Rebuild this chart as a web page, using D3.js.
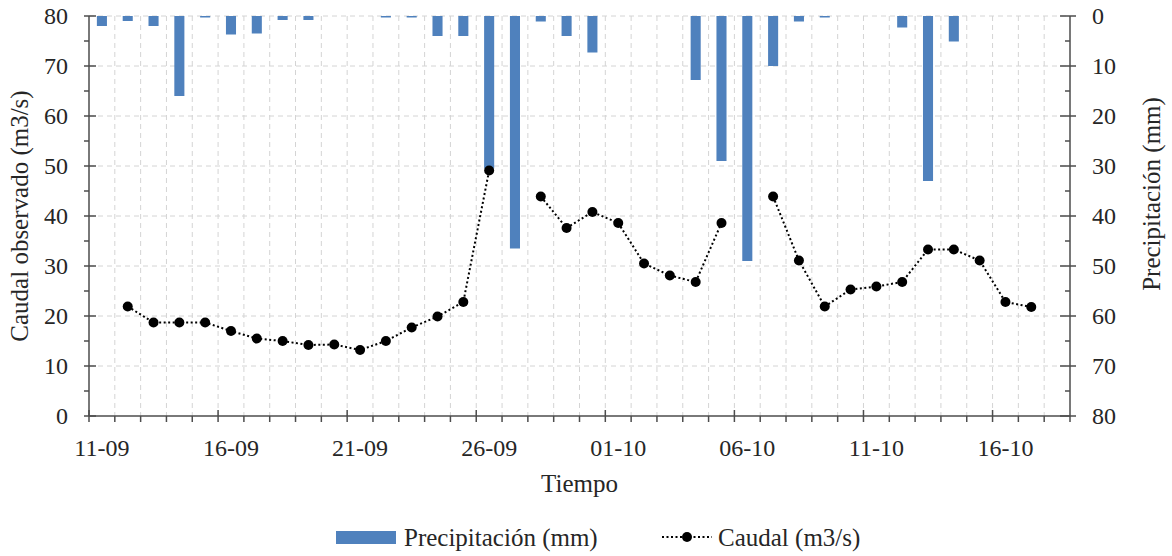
<!DOCTYPE html>
<html>
<head>
<meta charset="utf-8">
<script src="https://cdn.jsdelivr.net/npm/d3@7/dist/d3.min.js"></script>
<style>
  html, body { margin: 0; padding: 0; background: #fff; }
  svg { display: block; }
  svg text { font-family: "Liberation Serif", "Times New Roman", serif; }
</style>
</head>
<body>
<svg id="chart" width="1172" height="556"></svg>
<script>
// Daily dates (dd-mm), one slot per day
const dates = [
  "11-09","12-09","13-09","14-09","15-09","16-09","17-09","18-09","19-09","20-09",
  "21-09","22-09","23-09","24-09","25-09","26-09","27-09","28-09","29-09","30-09",
  "01-10","02-10","03-10","04-10","05-10","06-10","07-10","08-10","09-10","10-10",
  "11-10","12-10","13-10","14-10","15-10","16-10","17-10","18-10"
];
// Daily precipitation (mm)
const precipitacion = [
  2, 1, 2, 16, 0.3, 3.7, 3.5, 0.8, 0.8, 0,
  0, 0.3, 0.3, 4, 4, 30.5, 46.5, 1.1, 4, 7.3,
  0, 0, 0, 12.8, 29, 49, 10, 1.1, 0.3, 0,
  0, 2.3, 33, 5.1, 0, 0, 0, 0
];
// Observed discharge (m3/s); null = no measurement
const caudal = [
  null, 21.9, 18.7, 18.7, 18.7, 17.0, 15.5, 15.0, 14.2, 14.3,
  13.2, 15.0, 17.7, 19.9, 22.8, 49.1, null, 43.9, 37.6, 40.8,
  38.6, 30.5, 28.1, 26.8, 38.6, null, 43.9, 31.1, 21.9, 25.3,
  25.9, 26.8, 33.3, 33.3, 31.1, 22.8, 21.8, null
];
const xTickLabels = ["11-09","16-09","21-09","26-09","01-10","06-10","11-10","16-10"];
const yTicks = [0, 10, 20, 30, 40, 50, 60, 70, 80];
const yMinorTicks = [5, 15, 25, 35, 45, 55, 65, 75];

const svg = d3.select("#chart");
const plotL = 89, plotR = 1070, plotT = 16, plotB = 416;
const axisColor = "#4d4d4d", textColor = "#262626", gridColor = "#d4d4d4";
const barColor = "#4f81bd";
const serif = '"Liberation Serif", "Times New Roman", serif';

const x = d3.scaleBand().domain(dates).range([plotL, plotR]).padding(0);
const yL = d3.scaleLinear().domain([0, 80]).range([plotB, plotT]);
const yR = d3.scaleLinear().domain([0, 80]).range([plotT, plotB]);
const bw = x.bandwidth();
const cx = d => x(d) + bw / 2;

// Gridlines
const grid = svg.append("g").attr("stroke", gridColor).attr("stroke-width", 1)
  .attr("stroke-dasharray", "5,4");
dates.forEach((d, i) => {
  if (i === 0) return;
  grid.append("line").attr("x1", x(d)).attr("x2", x(d)).attr("y1", plotT).attr("y2", plotB);
});
yTicks.forEach(v => {
  if (v === 0) return;
  grid.append("line").attr("x1", plotL).attr("x2", plotR).attr("y1", yL(v)).attr("y2", yL(v));
});

// Precipitation bars hanging from the top
const barW = bw * 0.39;
svg.append("g").selectAll("rect").data(dates).join("rect")
  .attr("x", d => cx(d) - barW / 2)
  .attr("y", yR(0))
  .attr("width", barW)
  .attr("height", (d, i) => yR(precipitacion[i]) - yR(0))
  .attr("fill", barColor);

// Discharge line (dotted) with markers
const pts = dates.map((d, i) => ({ d, v: caudal[i] }));
const line = d3.line().defined(p => p.v !== null).x(p => cx(p.d)).y(p => yL(p.v));
svg.append("path").datum(pts).attr("d", line)
  .attr("fill", "none").attr("stroke", "#000").attr("stroke-width", 2)
  .attr("stroke-dasharray", "2,2.5");
svg.append("g").selectAll("circle").data(pts.filter(p => p.v !== null)).join("circle")
  .attr("cx", p => cx(p.d)).attr("cy", p => yL(p.v)).attr("r", 5).attr("fill", "#000");

// Axes
const ax = svg.append("g").attr("stroke", axisColor).attr("stroke-width", 1.5);
ax.append("line").attr("x1", plotL).attr("x2", plotL).attr("y1", plotT).attr("y2", plotB);
ax.append("line").attr("x1", plotR).attr("x2", plotR).attr("y1", plotT).attr("y2", plotB);
ax.append("line").attr("x1", plotL).attr("x2", plotR).attr("y1", plotB).attr("y2", plotB);
yTicks.forEach(v => {
  ax.append("line").attr("x1", plotL - 5).attr("x2", plotL + 7).attr("y1", yL(v)).attr("y2", yL(v));
  ax.append("line").attr("x1", plotR - 10).attr("x2", plotR + 6).attr("y1", yR(v)).attr("y2", yR(v));
});
yMinorTicks.forEach(v => {
  ax.append("line").attr("x1", plotL - 5).attr("x2", plotL).attr("y1", yL(v)).attr("y2", yL(v));
  ax.append("line").attr("x1", plotR - 5).attr("x2", plotR).attr("y1", yR(v)).attr("y2", yR(v));
});
dates.concat([null]).forEach((d, i) => {
  const xp = d === null ? plotR : x(d);
  const major = i % 5 === 0;
  ax.append("line").attr("x1", xp).attr("x2", xp)
    .attr("y1", major ? plotB - 6 : plotB).attr("y2", plotB + 6);
});

// Tick labels
const fs = 24;
svg.append("g").selectAll("text").data(yTicks).join("text")
  .attr("x", 68).attr("y", v => yL(v)).attr("dy", "0.35em")
  .attr("font-family", serif)
  .attr("text-anchor", "end").attr("font-size", fs).attr("fill", textColor).text(v => v);
svg.append("g").selectAll("text").data(yTicks).join("text")
  .attr("x", 1092).attr("y", v => yR(v)).attr("dy", "0.35em")
  .attr("font-family", serif)
  .attr("text-anchor", "start").attr("font-size", fs).attr("fill", textColor).text(v => v);
svg.append("g").selectAll("text").data(xTickLabels).join("text")
  .attr("x", d => cx(d)).attr("y", 456)
  .attr("font-family", serif)
  .attr("text-anchor", "middle").attr("font-size", fs).attr("fill", textColor).text(d => d);

// Axis titles
svg.append("text").attr("transform", `translate(28,${(plotT + plotB) / 2}) rotate(-90)`)
  .attr("font-family", serif)
  .attr("text-anchor", "middle").attr("font-size", 25).attr("fill", textColor)
  .text("Caudal observado (m3/s)");
svg.append("text").attr("transform", "translate(1160,194) rotate(-90)")
  .attr("font-family", serif)
  .attr("text-anchor", "middle").attr("font-size", 25).attr("fill", textColor)
  .text("Precipitación (mm)");
svg.append("text").attr("x", (plotL + plotR) / 2).attr("y", 492)
  .attr("font-family", serif)
  .attr("text-anchor", "middle").attr("font-size", 25).attr("fill", textColor)
  .text("Tiempo");

// Legend
const lg = svg.append("g");
lg.append("rect").attr("x", 336).attr("y", 531).attr("width", 60).attr("height", 13).attr("fill", barColor);
lg.append("text").attr("x", 404).attr("y", 546).attr("font-family", serif)
  .attr("font-size", 25).attr("fill", textColor)
  .text("Precipitación (mm)");
lg.append("line").attr("x1", 662).attr("x2", 712).attr("y1", 537).attr("y2", 537)
  .attr("stroke", "#000").attr("stroke-width", 2).attr("stroke-dasharray", "2,2.5");
lg.append("circle").attr("cx", 687).attr("cy", 537).attr("r", 5).attr("fill", "#000");
lg.append("text").attr("x", 718).attr("y", 546).attr("font-family", serif)
  .attr("font-size", 25).attr("fill", textColor)
  .text("Caudal (m3/s)");
</script>
</body>
</html>
